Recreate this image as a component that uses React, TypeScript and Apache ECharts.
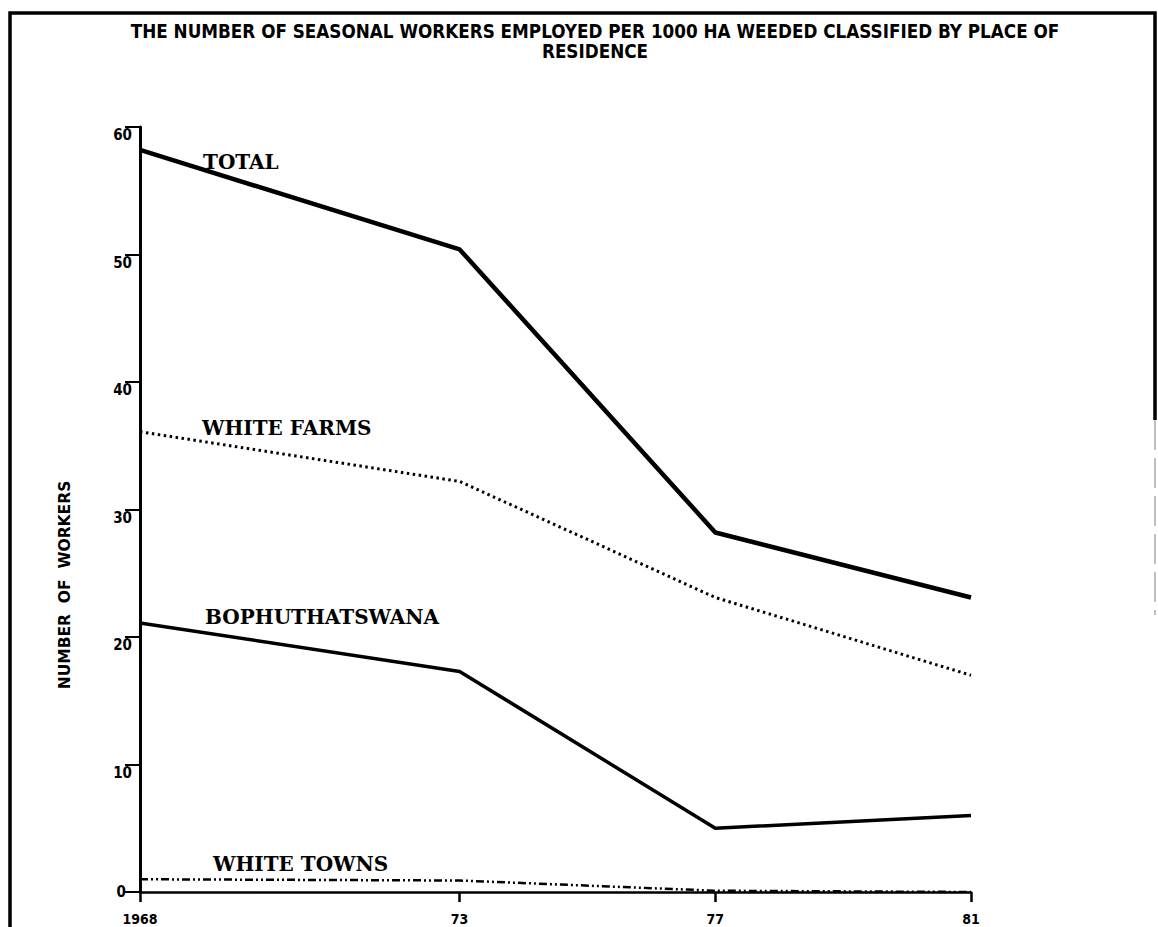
import React, { useEffect, useRef } from "react";
import * as echarts from "echarts";

const years = [1968, 1973, 1977, 1981];
const tickYears = [1968, 1973, 1977, 1981];
const total = [58.2, 50.4, 28.2, 23.1];
const whiteFarms = [36.1, 32.2, 23.1, 17.0];
const bophuthatswana = [21.1, 17.3, 5.0, 6.0];
const whiteTowns = [1.0, 0.9, 0.1, 0.0];
const seriesNames = ["TOTAL", "WHITE FARMS", "BOPHUTHATSWANA", "WHITE TOWNS"];
const titleLines = [
  "THE NUMBER OF SEASONAL WORKERS EMPLOYED PER 1000 HA WEEDED CLASSIFIED BY PLACE OF",
  "RESIDENCE",
];
const yAxisName = "NUMBER  OF  WORKERS";

const condensed = "'DejaVu Sans Condensed', 'Liberation Sans Narrow', 'DejaVu Sans', sans-serif";
const sans = "'DejaVu Sans', 'Liberation Sans', sans-serif";
const serif = "'DejaVu Serif', 'Liberation Serif', serif";

function buildData(values: number[], name: string, offset: number[]) {
  return years.map((yr, i) =>
    i === 0
      ? {
          value: [yr, values[i]],
          label: {
            show: true,
            formatter: name,
            position: "right",
            distance: 5,
            offset,
            fontFamily: serif,
            fontWeight: "bold",
            fontSize: 20,
            color: "#000",
          },
        }
      : { value: [yr, values[i]], label: { show: false } }
  );
}

function lineSeries(name: string, values: number[], offset: number[], lineStyle: any) {
  return {
    name,
    type: "line",
    showSymbol: true,
    symbol: "circle",
    symbolSize: 0.01,
    itemStyle: { color: "rgba(0,0,0,0)" },
    data: buildData(values, name, offset),
    lineStyle,
    emphasis: { disabled: true },
  };
}

export default function App() {
  const ref = useRef<HTMLDivElement>(null);
  useEffect(() => {
    if (!ref.current) return;
    const chart = echarts.init(ref.current, null, { renderer: "svg" });
    chart.setOption({
      animation: false,
      backgroundColor: "#fff",
      grid: { left: 140, right: 187, top: 127, bottom: 35, containLabel: false, outerBoundsMode: "none" },
      xAxis: {
        type: "value",
        min: 1968,
        max: 1981,
        splitLine: { show: false },
        axisLine: { onZero: false, lineStyle: { color: "#000", width: 2.5 } },
        axisTick: { customValues: tickYears, length: 10, lineStyle: { color: "#000", width: 2.5 } },
        axisLabel: {
          customValues: tickYears,
          formatter: (v: number) => (v === 1968 ? "1968" : String(v).slice(2)),
          margin: 20,
          fontFamily: condensed,
          fontWeight: "bold",
          fontSize: 14,
          color: "#000",
        },
      },
      yAxis: {
        type: "value",
        min: 0,
        max: 60,
        interval: 10,
        splitLine: { show: false },
        axisLine: { show: true, onZero: false, lineStyle: { color: "#000", width: 3 } },
        axisTick: { show: true, length: 15, lineStyle: { color: "#000", width: 2 } },
        axisLabel: {
          margin: 8,
          formatter: (v: number) => (v === 0 ? "{z|0}" : `{a|${v}}`),
          fontFamily: condensed,
          fontWeight: "bold",
          fontSize: 15,
          color: "#000",
          rich: {
            z: { padding: [0, 6, 0, 0], fontFamily: condensed, fontWeight: "bold", fontSize: 15, color: "#000" },
            a: { padding: [16, 0, 0, 0], fontFamily: condensed, fontWeight: "bold", fontSize: 15, color: "#000" },
          },
        },
      },
      graphic: [
        {
          type: "text",
          x: 595,
          y: 21,
          style: {
            text: titleLines.join("\n"),
            align: "center",
            verticalAlign: "top",
            lineHeight: 20,
            fontFamily: condensed,
            fontWeight: "bold",
            fontSize: 18.7,
            fill: "#000",
          },
        },
        {
          type: "text",
          x: 65,
          y: 585,
          rotation: Math.PI / 2,
          style: {
            text: yAxisName,
            align: "center",
            verticalAlign: "middle",
            fontFamily: sans,
            fontWeight: "bold",
            fontSize: 15.5,
            fill: "#000",
          },
        },
        {
          type: "polyline",
          shape: { points: [[10, 927], [10, 13], [1155, 13], [1155, 420]] },
          style: { stroke: "#000", lineWidth: 3.5, fill: null },
        },
        {
          type: "line",
          shape: { x1: 1155, y1: 420, x2: 1155, y2: 615 },
          style: { stroke: "#aaa", lineWidth: 1.5, lineDash: [30, 8] },
        },
      ],
      series: [
        lineSeries(seriesNames[0], total, [58, 12], { color: "#000", width: 4.5 }),
        lineSeries(seriesNames[1], whiteFarms, [57, -4], { color: "#000", width: 3, type: [2.5, 3.5] }),
        lineSeries(seriesNames[2], bophuthatswana, [60, -6], { color: "#000", width: 3.5 }),
        lineSeries(seriesNames[3], whiteTowns, [68, -15], { color: "#000", width: 2.5, type: [8, 3, 2, 3, 2, 3] }),
      ],
    });
    return () => chart.dispose();
  }, []);
  return (
    <div
      ref={ref}
      style={{ position: "fixed", left: 0, top: 0, width: 1158, height: 927, background: "#fff" }}
    />
  );
}
